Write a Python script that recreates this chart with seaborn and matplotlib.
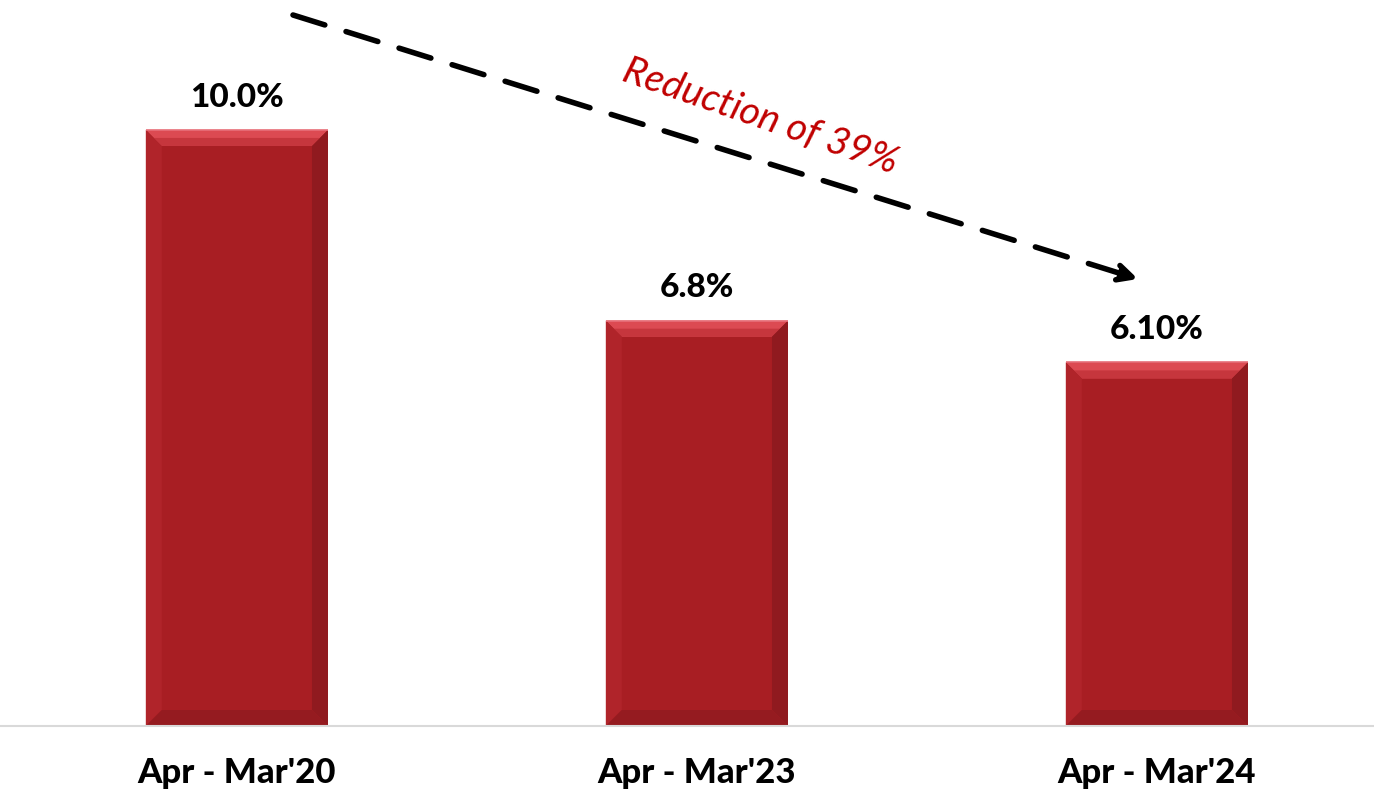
import matplotlib
matplotlib.use("Agg")
import matplotlib.pyplot as plt
import seaborn as sns
import pandas as pd
from matplotlib.patches import Polygon

categories = ["Apr - Mar'20", "Apr - Mar'23", "Apr - Mar'24"]
values = [10.0, 6.8, 6.1]
labels = ["10.0%", "6.8%", "6.10%"]
annotation = "Reduction of 39%"

sns.set_theme(style="white")
plt.rcParams['font.family'] = ['Lato', 'DejaVu Sans']

df = pd.DataFrame({"period": categories, "value": values})

fig = plt.figure(figsize=(13.74, 7.91), dpi=100)
ax = fig.add_axes([0, 65/791, 1, 726/791])

main = "#A81E23"
sns.barplot(data=df, x="period", y="value", color=main, width=0.396,
            saturation=1, ax=ax, edgecolor="none", linewidth=0)

ax.set_xlim(-0.515, 2.472)
ax.set_ylim(0, 12.18)

# bevel effect derived from bar geometry
dx = 16/460
dy = 16/59.6
for p in ax.patches[:]:
    x0 = p.get_x(); x1 = x0 + p.get_width()
    y0 = p.get_y(); y1 = y0 + p.get_height()
    top = [(x0, y1), (x1, y1), (x1-dx, y1-dy), (x0+dx, y1-dy)]
    top_in = [(x0+dx*0.5, y1-dy*0.5), (x1-dx*0.5, y1-dy*0.5), (x1-dx, y1-dy), (x0+dx, y1-dy)]
    left = [(x0, y0), (x0, y1), (x0+dx, y1-dy), (x0+dx, y0+dy)]
    right = [(x1, y0), (x1, y1), (x1-dx, y1-dy), (x1-dx, y0+dy)]
    bottom = [(x0, y0), (x1, y0), (x1-dx, y0+dy), (x0+dx, y0+dy)]
    ax.add_patch(Polygon(top, closed=True, facecolor="#DC4A52", edgecolor="none"))
    ax.add_patch(Polygon(top_in, closed=True, facecolor="#C6363D", edgecolor="none"))
    ax.add_patch(Polygon(left, closed=True, facecolor="#B0242A", edgecolor="none"))
    ax.add_patch(Polygon(right, closed=True, facecolor="#901A1F", edgecolor="none"))
    ax.add_patch(Polygon(bottom, closed=True, facecolor="#951B20", edgecolor="none"))
    ax.plot([x0, x1], [y1, y1], color="#E8707A", lw=1.2, solid_capstyle="butt")

for i, (v, lab) in enumerate(zip(values, labels)):
    ax.text(i, v + 0.55, lab, ha="center", va="center", fontsize=24,
            fontweight=900, color="black")

for s in ["top", "right", "left"]:
    ax.spines[s].set_visible(False)
ax.spines["bottom"].set_color("#D9D9D9")
ax.spines["bottom"].set_linewidth(1.5)
ax.set_yticks([])
ax.set_xlabel("")
ax.set_ylabel("")
ax.tick_params(axis="x", length=0, pad=22)
for t in ax.get_xticklabels():
    t.set_fontsize(25)
    t.set_fontweight(900)
    t.set_color("black")

# dashed trend arrow (figure pixel coordinates from top)
def fp(x, y):
    return (x/1374, 1 - y/791)

ax.annotate("", xy=fp(1138, 279), xytext=fp(293, 15),
            xycoords="figure fraction", textcoords="figure fraction",
            arrowprops=dict(arrowstyle="-|>,head_length=0.9,head_width=0.45",
                            color="black", lw=4, linestyle=(0, (6, 4)),
                            shrinkA=0, shrinkB=0))
fig.text(*fp(760, 117), annotation, rotation=-19, ha="center", va="center",
         fontsize=28, fontstyle="italic", color="#C00000")

fig.savefig("out.png", dpi=100)
